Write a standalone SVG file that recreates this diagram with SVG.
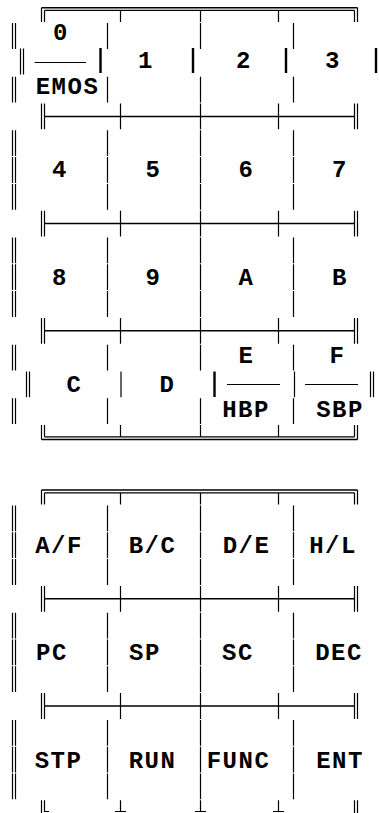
<svg xmlns="http://www.w3.org/2000/svg" xmlns:xlink="http://www.w3.org/1999/xlink" width="379" height="813" viewBox="0 0 379 813">
<style>
.t{font-family:"Liberation Mono","DejaVu Sans Mono",monospace;font-weight:bold;font-size:24px;letter-spacing:1.5px;fill:#000;text-anchor:middle}
.v{stroke:#000;stroke-width:1.2;fill:none}
.b{stroke:#000;stroke-width:2.4;fill:none}
.h{stroke:#000;stroke-width:1.5;fill:none}
.f{stroke:#000;stroke-width:1.2;fill:none}
</style>
<defs>
<path id="cellline" d="M12.5 0v25.8M15.5 0v25.8M107.5 0v25.8M200.5 0v25.8M293.5 0v25.8"/>
<g id="cellrow">
<use xlink:href="#cellline" href="#cellline"/>
<use xlink:href="#cellline" href="#cellline" y="26.8"/>
<use xlink:href="#cellline" href="#cellline" y="53.6"/>
</g>
<g id="sep">
<path class="h" d="M44.5 0H354.5"/>
<path class="v" d="M41.5 -12.9V12.9M44.5 -12.9V12.9M120.5 -12.9V12.9M200.5 -12.9V12.9M278.5 -12.9V12.9M354.5 -12.9V12.9M357.5 -12.9V12.9"/>
</g>
<g id="top">
<path class="h" d="M41.5 -1.5H357.5"/>
<path class="v" d="M44.5 1.2H354.5M41.5 -1.5V12.9M44.5 1.2V12.9M357.5 -1.5V12.9M354.5 1.2V12.9M120.5 1.2V12.9M200.5 1.2V12.9M278.5 1.2V12.9"/>
</g>
<g id="bot">
<path class="h" d="M41.5 1.5H357.5"/>
<path class="v" d="M44.5 -1.2H354.5M41.5 1.5V-12.9M44.5 -1.2V-12.9M357.5 1.5V-12.9M354.5 -1.2V-12.9M120.5 -1.2V-12.9M200.5 -1.2V-12.9M278.5 -1.2V-12.9"/>
</g>
</defs>
<rect width="379" height="813" fill="#fff"/>
<g id="connectors">
<!-- keypad 1 frame -->
<use xlink:href="#top" href="#top" y="9.2"/>
<use xlink:href="#sep" href="#sep" y="116.4"/>
<use xlink:href="#sep" href="#sep" y="223.6"/>
<use xlink:href="#sep" href="#sep" y="330.8"/>
<use xlink:href="#bot" href="#bot" y="438"/>
<g class="v">
<use xlink:href="#cellline" href="#cellline" y="23.1"/>
<use xlink:href="#cellline" href="#cellline" y="76.7"/>
<use xlink:href="#cellrow" href="#cellrow" y="130.3"/>
<use xlink:href="#cellrow" href="#cellrow" y="237.5"/>
<use xlink:href="#cellline" href="#cellline" y="344.7"/>
<use xlink:href="#cellline" href="#cellline" y="398.3"/>
</g>
<!-- row 1 middle line -->
<path class="v" d="M20.5 48.5V74.5M23.5 48.5V74.5"/>
<path class="b" d="M100.5 48V73M193 48V73M286 48V73M376 48V73"/>
<!-- row 4 middle line -->
<path class="v" d="M26.5 371.5V397.3M29.5 371.5V397.3M121 371.5V397.3M294.5 371.5V397.3M370.5 371.5V397.3M373.5 371.5V397.3"/>
<path class="b" d="M214.5 371.5V397"/>
<!-- keypad 2 frame -->
<use xlink:href="#top" href="#top" y="491.6"/>
<use xlink:href="#sep" href="#sep" y="598.8"/>
<use xlink:href="#sep" href="#sep" y="706"/>
<g class="v">
<use xlink:href="#cellrow" href="#cellrow" y="505.5"/>
<use xlink:href="#cellrow" href="#cellrow" y="612.7"/>
<use xlink:href="#cellrow" href="#cellrow" y="719.9"/>
</g>
<path class="v" d="M41.5 800.3V813M44.5 800.3V811.5H49M120.5 800.3V811.5M200.5 800.3V811.5M278.5 800.3V811.5M354.5 800.3V813M357.5 800.3V813M115 811.5H126M195 811.5H206M273 811.5H284"/>
</g>
<g id="key-0">
<text class="t" x="61" y="40">0</text>
<path class="f" d="M34.5 62.5H86"/>
<text class="t" x="67.5" y="94">EMOS</text>
</g>
<g id="key-1"><text class="t" x="146" y="68">1</text></g>
<g id="key-2"><text class="t" x="244" y="68">2</text></g>
<g id="key-3"><text class="t" x="333" y="68">3</text></g>
<g id="key-4"><text class="t" x="60" y="177">4</text></g>
<g id="key-5"><text class="t" x="153.5" y="177">5</text></g>
<g id="key-6"><text class="t" x="246.5" y="177">6</text></g>
<g id="key-7"><text class="t" x="340" y="177">7</text></g>
<g id="key-8"><text class="t" x="60" y="284.5">8</text></g>
<g id="key-9"><text class="t" x="153.5" y="284.5">9</text></g>
<g id="key-A"><text class="t" x="246.5" y="284.5">A</text></g>
<g id="key-B"><text class="t" x="340" y="284.5">B</text></g>
<g id="key-C"><text class="t" x="74.5" y="392">C</text></g>
<g id="key-D"><text class="t" x="167.5" y="392">D</text></g>
<g id="key-E">
<text class="t" x="246.5" y="363">E</text>
<path class="f" d="M227 384.5H280"/>
<text class="t" x="246" y="417">HBP</text>
</g>
<g id="key-F">
<text class="t" x="337.5" y="363">F</text>
<path class="f" d="M305 384.5H358"/>
<text class="t" x="340" y="417">SBP</text>
</g>
<g id="key-AF"><text class="t" x="59" y="553">A/F</text></g>
<g id="key-BC"><text class="t" x="152.5" y="553">B/C</text></g>
<g id="key-DE"><text class="t" x="246.5" y="553">D/E</text></g>
<g id="key-HL"><text class="t" x="333" y="553">H/L</text></g>
<g id="key-PC"><text class="t" x="52" y="660">PC</text></g>
<g id="key-SP"><text class="t" x="145" y="660">SP</text></g>
<g id="key-SC"><text class="t" x="238" y="660">SC</text></g>
<g id="key-DEC"><text class="t" x="339" y="660">DEC</text></g>
<g id="key-STP"><text class="t" x="58.5" y="767.5">STP</text></g>
<g id="key-RUN"><text class="t" x="152.5" y="767.5">RUN</text></g>
<g id="key-FUNC"><text class="t" x="238.5" y="767.5">FUNC</text></g>
<g id="key-ENT"><text class="t" x="340" y="767.5">ENT</text></g>
</svg>
